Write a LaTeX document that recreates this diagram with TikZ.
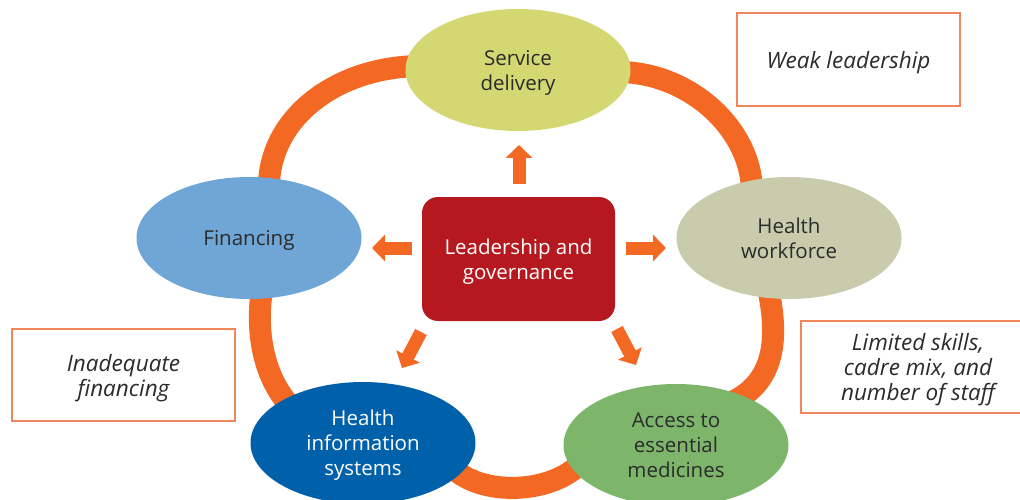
\documentclass[tikz,border=0pt]{standalone}
\usepackage{fontspec}
\setmainfont{Open Sans}
\usetikzlibrary{arrows.meta,shapes.geometric}
\definecolor{ringc}{HTML}{F36823}
\definecolor{boxc}{HTML}{F0875A}
\definecolor{servc}{HTML}{D4D873}
\definecolor{workc}{HTML}{C8CBAC}
\definecolor{finc}{HTML}{6FA6D6}
\definecolor{hisc}{HTML}{0061AA}
\definecolor{accc}{HTML}{7DB66A}
\definecolor{leadc}{HTML}{B5191F}
\definecolor{txtc}{HTML}{2B2B2B}
\begin{document}
\begin{tikzpicture}[x=1pt,y=-1pt,
  lbl/.style={font=\fontsize{20.5}{25}\selectfont, align=center, text depth=0pt},
  blob/.style={ellipse, lbl, minimum width=225pt, minimum height=122pt, inner sep=0pt, text=txtc},
  ringseg/.style={draw=ringc, line width=22pt},
  blk/.style={draw=ringc, line width=13pt, -{Triangle[width=26pt,length=13pt]}},
  note/.style={draw=boxc, line width=1.3pt},
  notetext/.style={lbl, font=\fontsize{22.5}{25}\selectfont\itshape, text=txtc}]
\useasboundingbox (0,0) rectangle (1020,500);
\fill[white] (0,0) rectangle (1020,500);

% ring segments (drawn first, hidden under ellipses at the ends)
\coordinate (r1a) at (269,192);
\coordinate (r1b) at (422,66);
\coordinate (r2a) at (618,72);
\coordinate (r2b) at (752,192);
\coordinate (r3a) at (768,288);
\coordinate (r3b) at (725,405);
\coordinate (r4a) at (582,462);
\coordinate (r4b) at (455,470);
\coordinate (r5a) at (292,408);
\coordinate (r5b) at (262,290);
\draw[ringseg] (r1a) .. controls (266,120) and (335,66) .. (r1b);
\draw[ringseg] (r2a) .. controls (690,72) and (752,130) .. (r2b);
\draw[ringseg] (r3a) .. controls (778,335) and (778,385) .. (r3b);
\draw[ringseg] (r4a) .. controls (552,494) and (485,496) .. (r4b);
\draw[ringseg] (r5a) .. controls (265,380) and (255,335) .. (r5b);

% ellipses
\node[blob, fill=servc] (serv) at (518,70) {Service\\delivery};
\node[blob, fill=workc] (work) at (789,238) {Health\\workforce};
\node[blob, fill=finc] (fin) at (249,238) {Financing};
\node[blob, fill=hisc, text=white] (his) at (363,443) {Health\\information\\systems};
\node[blob, fill=accc] (acc) at (676,445) {Access to\\essential\\medicines};

% centre box
\node[lbl, fill=leadc, text=white, rounded corners=16pt, minimum width=193pt, minimum height=124pt, inner sep=0pt] (lead) at (518.5,259) {Leadership and\\governance};

% arrows from the centre
\coordinate (aus) at (519,184); \coordinate (aue) at (519,145);
\coordinate (als) at (412,248); \coordinate (ale) at (372,248);
\coordinate (ars) at (626,248); \coordinate (are) at (666,248);
\coordinate (adls) at (421,332); \coordinate (adle) at (402,368);
\coordinate (adrs) at (617,329); \coordinate (adre) at (636,365);
\draw[blk] (aus) -- (aue);
\draw[blk] (als) -- (ale);
\draw[blk] (ars) -- (are);
\draw[blk] (adls) -- (adle);
\draw[blk] (adrs) -- (adre);

% note boxes
\draw[note] (737,13) rectangle (960,106);
\node[notetext] (weak) at (848.5,59.5) {Weak leadership};
\draw[note] (12,329) rectangle (235,421);
\node[notetext] (inad) at (123.5,375) {Inadequate\\financing};
\draw[note] (801,321) rectangle (1040,413);
\node[notetext] (lim) at (918,367) {Limited skills,\\cadre mix, and\\number of staff};
\end{tikzpicture}
\end{document}
